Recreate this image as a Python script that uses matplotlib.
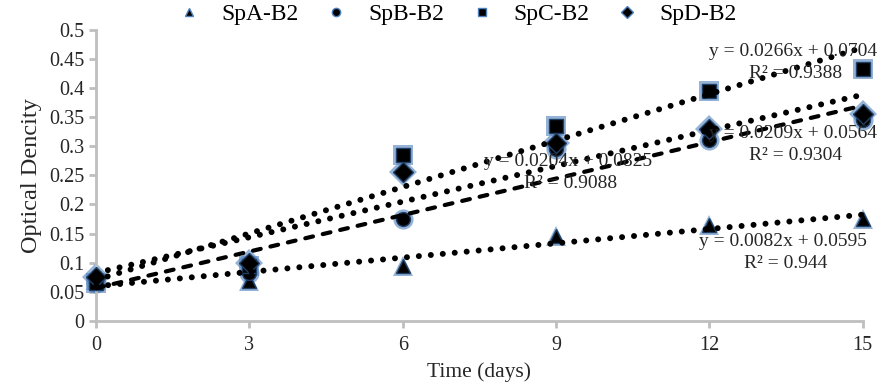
import matplotlib
matplotlib.use("Agg")
import matplotlib.pyplot as plt
from matplotlib.lines import Line2D
import numpy as np

days = [0, 3, 6, 9, 12, 15]
spA = [0.070, 0.068, 0.095, 0.145, 0.165, 0.175]
spB = [0.065, 0.082, 0.175, 0.295, 0.310, 0.345]
spC = [0.065, 0.095, 0.285, 0.335, 0.395, 0.432]
spD = [0.075, 0.100, 0.255, 0.305, 0.330, 0.355]
labels = ["SpA-B2", "SpB-B2", "SpC-B2", "SpD-B2"]
markers = ["^", "o", "s", "D"]
slopes = [0.0082, 0.0209, 0.0266, 0.0204]
intercepts = [0.0595, 0.0564, 0.0704, 0.0825]
r2 = ["0.944", "0.9304", "0.9388", "0.9088"]
xticks = [0, 3, 6, 9, 12, 15]
yticks = [0, 0.05, 0.1, 0.15, 0.2, 0.25, 0.3, 0.35, 0.4, 0.45, 0.5]

plt.rcParams['font.family'] = ['Liberation Serif', 'DejaVu Serif']
TXT = '#262626'
fig = plt.figure(figsize=(8.82, 3.88), dpi=100)
ax = fig.add_axes([0.109, 0.173, 0.869, 0.750])

series = [spA, spB, spC, spD]
dot = (0, (0.01, 2.0))
styles = [dot, (0, (1.9, 2.4)), dot, dot]
widths = [4.3, 3.0, 4.3, 4.3]
for s, m in zip(series, markers):
    ax.plot(days, s, linestyle='none', marker=m, markersize=14.5, color='#4f81bd',
            alpha=0.6, markeredgewidth=0, zorder=2, clip_on=False)
    ax.plot(days, s, linestyle='none', marker=m, markersize=10, color='black',
            markeredgecolor='#1f3f66', markeredgewidth=1, zorder=3, clip_on=False)
xs = np.array([0, 15])
for k, b, ls, lw in zip(slopes, intercepts, styles, widths):
    ax.plot(xs, k * xs + b, color='black', linewidth=lw, linestyle=ls,
            dash_capstyle='round', solid_capstyle='round', zorder=4, clip_on=False)

# equation labels
EQ = 14
eq_pos = [(783, 241), (793, 133), (793, 52), (568, 161)]
for (px, py), k, b, r in zip(eq_pos, slopes, intercepts, r2):
    x = px / 882
    y = 1 - py / 388
    fig.text(x, y, f"y = {k:.4f}x + {b:.4f}", ha='center', va='center', fontsize=EQ, color=TXT, zorder=5)
    fig.text(x + 0.003, y - 22 / 388, f"R² = {r}", ha='center', va='center', fontsize=EQ, color=TXT, zorder=5)

ax.set_xlim(0, 15)
ax.set_ylim(0, 0.5)
ax.set_xticks(xticks)
ax.set_xticklabels([str(t) for t in xticks])
ax.set_yticks(yticks)
ax.set_yticklabels(["0", "0.05", "0.1", "0.15", "0.2", "0.25", "0.3", "0.35", "0.4", "0.45", "0.5"])
for side in ['top', 'right']:
    ax.spines[side].set_visible(False)
for side in ['left', 'bottom']:
    ax.spines[side].set_color('#bfbfbf')
    ax.spines[side].set_linewidth(2)
ax.tick_params(axis='both', colors='#bfbfbf', width=2, length=5, labelsize=14.5,
               labelcolor=TXT, direction='out')
ax.tick_params(axis='x', pad=6)
ax.set_xlabel("Time (days)", fontsize=15.5, color=TXT, labelpad=5)
ax.set_ylabel("Optical Dencity", fontsize=17.5, color=TXT, labelpad=5)

handles = [Line2D([], [], linestyle='none', marker=m, markersize=6, color='black',
                  markeredgecolor='#4f81bd', markeredgewidth=1) for m in markers]
fig.legend(handles, labels, loc='center', bbox_to_anchor=(0.518, 0.963), ncol=4,
           frameon=False, fontsize=17, handletextpad=0.85, columnspacing=1.1,
           handlelength=1.0)

fig.savefig("out.png", dpi=100)
